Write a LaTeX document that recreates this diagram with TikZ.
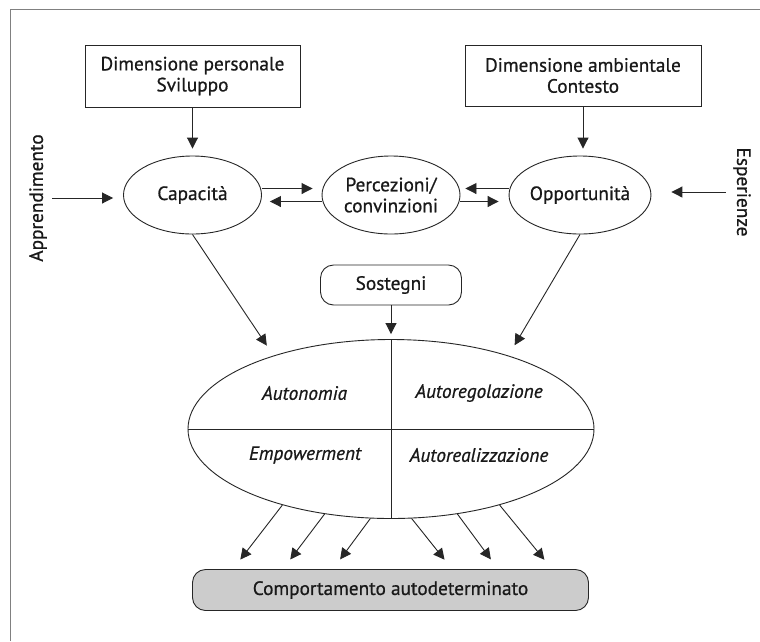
\documentclass[tikz,border=0pt]{standalone}
\usepackage{fontspec}
\setmainfont{PT Sans}[FakeBold=0.7]
\usetikzlibrary{positioning,calc,shapes.geometric,arrows.meta}

\begin{document}
\begin{tikzpicture}[x=1pt,y=-1pt,
    every node/.style={font=\fontsize{19.3}{21}\selectfont, text=black!90},
    line/.style={draw=black!85, line width=0.9pt},
    arr/.style={line, -{Triangle[length=11pt,width=11pt]}},
    dim/.style={line, rectangle, align=center},
    oval/.style={line, ellipse, minimum width=138pt, minimum height=78pt, inner sep=0pt, align=center},
    pill/.style={line, rectangle, rounded corners=13pt, align=center},
    quad/.style={font=\fontsize{19.3}{21}\selectfont\itshape}]
    \useasboundingbox[fill=white] (0,0) rectangle (760,641);

    % page frame
    \draw[black!50, line width=0.8pt] (10,641) -- (10,9.5) -- (760,9.5);

    % Dimensions
    \node[dim, minimum width=215pt, minimum height=62pt] (pers) at (192.5,76) {Dimensione personale\\Sviluppo};
    \node[dim, minimum width=236pt, minimum height=61pt] (amb) at (583,75.5) {Dimensione ambientale\\Contesto};

    % Ovals
    \node[oval] (cap) at (192.5,195) {Capacità};
    \node[oval] (perc) at (391,195) {Percezioni/\\convinzioni};
    \node[oval] (opp) at (580,195) {Opportunità};
    \node[pill, minimum width=141pt, minimum height=40pt] (sost) at (391,285) {Sostegni};

    % side labels
    \node[rotate=90] (app) at (38,198) {Apprendimento};
    \node[rotate=-90] (esp) at (742,192) {Esperienze};

    % self-determination
    \node[line, ellipse, minimum width=406pt, minimum height=179pt] (auto) at (391,429) {};
    \draw[line] (auto.north) -- (auto.south);
    \draw[line] (auto.west) -- (auto.east);
    \node[quad] (auton) at (304.5,393) {Autonomia};
    \node[quad] (autor) at (479,393) {Autoregolazione};
    \node[quad] (empow) at (305,455) {Empowerment};
    \node[quad] (autoz) at (479,455) {Autorealizzazione};

    \node[pill, fill=black!20, minimum width=396pt, minimum height=41pt] (comp) at (390.5,590) {Comportamento autodeterminato};

    % Arrows
    \draw[arr, shorten >=7pt] (pers.south) -- (pers.south |- cap.north);
    \draw[arr, shorten >=7pt] (amb.south) -- (amb.south |- opp.north);
    \draw[arr, shorten <=2pt, shorten >=10pt] (app.south) -- (app.south -| cap.west);
    \draw[arr, shorten <=4pt, shorten >=20pt] (esp.south) -- (esp.south -| opp.east);

    \draw[arr] ($(cap.east)+(0,-6.5)$) -- ($(perc.west)+(-9,-6.5)$);
    \draw[arr] ($(perc.west)+(0,6.5)$) -- ($(cap.east)+(8,6.5)$);
    \draw[arr] ($(opp.west)+(0,-6.5)$) -- ($(perc.east)+(5,-6.5)$);
    \draw[arr] ($(perc.east)+(0,6.5)$) -- ($(opp.west)+(-10,6.5)$);

    \draw[arr, shorten >=12pt] (cap.south) -- (auto.148);
    \draw[arr, shorten >=12pt] (opp.south) -- (auto.32);
    \draw[arr, shorten >=5pt] (sost.south) -- (auto.north);

    \foreach \a/\x in {215/233, 232/283, 257/333, 283/452, 308/498, 325/552}
      \draw[arr, shorten >=12pt] (auto.\a) -- (\x,0 |- comp.north);
\end{tikzpicture}
\end{document}
